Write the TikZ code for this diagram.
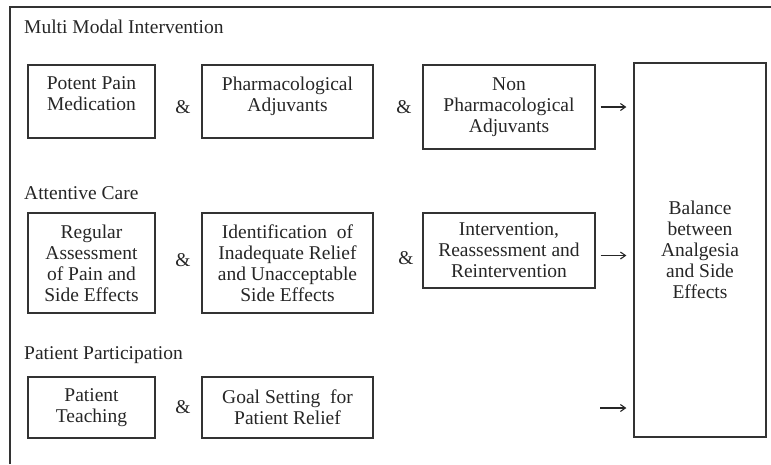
\documentclass[tikz,border=0pt]{standalone}
\usepackage{fontspec}
\setmainfont{Liberation Serif}
\usetikzlibrary{positioning, calc, arrows.meta}

\begin{document}
\begin{tikzpicture}[x=1pt,y=-1pt,
    every node/.style={font=\fontsize{19.5}{21}\selectfont, text=black!85},
    box/.style={draw=black!80, line width=1.3pt, align=center, inner sep=2pt},
    heading/.style={anchor=west, inner sep=0pt},
    arr/.style={-{Straight Barb[length=5pt,width=7pt]}, line width=1.1pt, black!85, shorten <=5pt, shorten >=7pt}]
    \useasboundingbox (0,0) rectangle (771,464);
    % frame
    \draw[black!80, line width=1.2pt] (10,464) -- (10,7);
    \draw[black!80, line width=2.2pt] (9.4,7) -- (771,7);
    % multi modal intervention
    \node[heading] (mmi) at (24,27) {Multi Modal Intervention};
    \node[box, text depth=15pt, minimum width=127, minimum height=73] (ppm) at (91.5,101.5) {Potent Pain\\Medication};
    \node (and1) at (183,107) {\&};
    \node[box, text depth=15pt, minimum width=171, minimum height=73] (pha) at (287.5,101.5) {Pharmacological\\Adjuvants};
    \node (and2) at (404,107) {\&};
    \node[box, minimum width=172, minimum height=84] (npa) at (509,107) {Non\\Pharmacological\\Adjuvants};
    % balance
    \node[box, minimum width=132, minimum height=374] (bal) at (700,250) {Balance\\between\\Analgesia\\and Side\\Effects};
    % attentive care
    \node[heading] (att) at (24,193) {Attentive Care};
    \node[box, minimum width=127, minimum height=100] (reg) at (91.5,263) {Regular\\Assessment\\of Pain and\\Side Effects};
    \node (and3) at (183,260) {\&};
    \node[box, minimum width=171, minimum height=100] (idf) at (287.5,263) {Identification\ \ of\\Inadequate Relief\\and Unacceptable\\Side Effects};
    \node (and4) at (406,258) {\&};
    \node[box, minimum width=172, minimum height=75] (inv) at (509,250.5) {Intervention,\\Reassessment and\\Reintervention};
    % patient participation
    \node[heading] (pap) at (24,355) {Patient Participation};
    \node[box, minimum width=127, minimum height=61] (tea) at (91.5,407.5) {Patient\\Teaching};
    \node (and5) at (183,407) {\&};
    \node[box, minimum width=171, minimum height=61] (gol) at (287.5,407.5) {Goal Setting\ \ for\\Patient Relief};
    \coordinate (pp) at (600,408);
    % arrows
    \draw[arr] (npa.east) -- (npa.east -| bal.west);
    \draw[arr] ([yshift=-5pt]inv.east) -- ([yshift=-5pt]inv.east -| bal.west);
    \draw[arr, shorten <=0pt] (pp) -- (pp -| bal.west);
\end{tikzpicture}
\end{document}
